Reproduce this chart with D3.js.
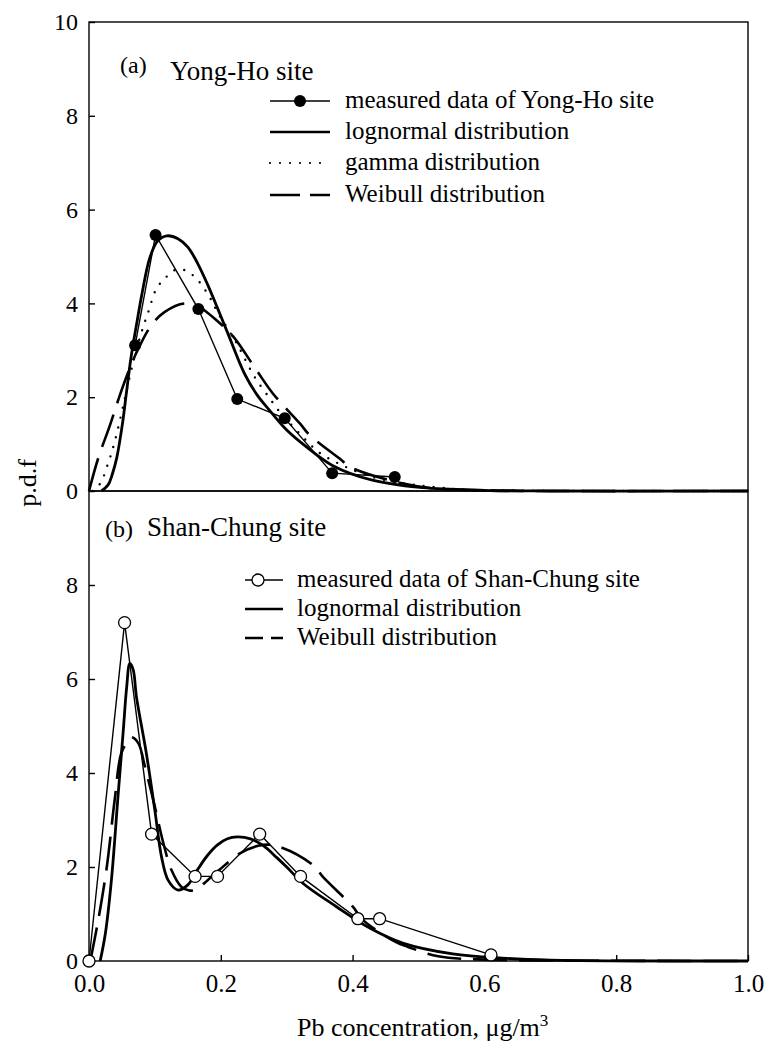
<!DOCTYPE html>
<html><head><meta charset="utf-8">
<script src="https://cdn.jsdelivr.net/npm/d3@7"></script>
<style>
html,body{margin:0;padding:0;background:#fff;}
svg text{font-family:"Liberation Serif","DejaVu Serif",serif;fill:#000;}
</style></head>
<body><svg id="c" width="768" height="1042"></svg>
<script>
// ---------- data ----------
const xTicks = [0.0, 0.2, 0.4, 0.6, 0.8, 1.0];
const yTicksA = [0, 2, 4, 6, 8, 10];
const yTicksB = [0, 2, 4, 6, 8];

// Panel (a) Yong-Ho site
const measA_x = [0.070, 0.101, 0.166, 0.225, 0.297, 0.369, 0.464];
const measA_y = [3.11, 5.46, 3.88, 1.96, 1.55, 0.38, 0.30];
const lognA_x = [0.019, 0.029, 0.035, 0.042, 0.0505, 0.057, 0.0636, 0.072, 0.081, 0.092, 0.104, 0.118, 0.135, 0.150, 0.165, 0.180, 0.195, 0.211, 0.236, 0.255, 0.274, 0.300, 0.330, 0.370, 0.430, 0.506, 0.600, 0.700, 1.000];
const lognA_y = [0.00, 0.13, 0.34, 0.70, 1.41, 2.12, 2.83, 3.54, 4.25, 4.96, 5.33, 5.44, 5.38, 5.20, 4.85, 4.40, 3.90, 3.35, 2.50, 2.05, 1.72, 1.30, 0.94, 0.54, 0.23, 0.07, 0.015, 0.00, 0.00];
const gamA_x = [0.005, 0.017, 0.029, 0.039, 0.0545, 0.068, 0.080, 0.090, 0.1025, 0.115, 0.130, 0.145, 0.163, 0.181, 0.196, 0.224, 0.251, 0.274, 0.287, 0.345, 0.363, 0.430, 0.550, 0.650, 1.000];
const gamA_y = [0.00, 0.16, 0.59, 1.05, 1.98, 2.80, 3.40, 3.82, 4.32, 4.53, 4.71, 4.71, 4.53, 4.18, 3.79, 3.15, 2.44, 1.98, 1.73, 0.87, 0.70, 0.30, 0.05, 0.01, 0.00];
const weiA_x = [0.000, 0.014, 0.032, 0.047, 0.062, 0.075, 0.095, 0.115, 0.145, 0.166, 0.196, 0.219, 0.254, 0.279, 0.320, 0.335, 0.383, 0.395, 0.456, 0.520, 0.600, 0.700, 1.000];
const weiA_y = [0.00, 0.70, 1.41, 2.05, 2.62, 3.04, 3.54, 3.82, 4.00, 3.93, 3.61, 3.29, 2.58, 2.08, 1.44, 1.19, 0.66, 0.52, 0.23, 0.06, 0.01, 0.00, 0.00];

// Panel (b) Shan-Chung site
const measB_x = [0.000, 0.054, 0.095, 0.161, 0.195, 0.259, 0.321, 0.408, 0.441, 0.610];
const measB_y = [0.00, 7.20, 2.70, 1.80, 1.80, 2.70, 1.80, 0.90, 0.90, 0.13];
const lognB_x = [0.017, 0.025, 0.034, 0.044, 0.052, 0.057, 0.062, 0.067, 0.072, 0.087, 0.100, 0.110, 0.120, 0.135, 0.150, 0.165, 0.180, 0.195, 0.210, 0.225, 0.245, 0.265, 0.285, 0.300, 0.325, 0.375, 0.426, 0.476, 0.552, 0.627, 0.700, 1.000];
const lognB_y = [0.00, 0.60, 1.72, 3.50, 4.90, 5.80, 6.33, 6.20, 5.62, 4.42, 3.20, 2.22, 1.72, 1.51, 1.62, 1.95, 2.25, 2.47, 2.60, 2.64, 2.60, 2.45, 2.20, 2.00, 1.65, 1.16, 0.70, 0.38, 0.15, 0.06, 0.02, 0.00];
const weiB_x = [0.002, 0.014, 0.027, 0.039, 0.049, 0.060, 0.0646, 0.075, 0.085, 0.100, 0.113, 0.125, 0.140, 0.152, 0.163, 0.180, 0.198, 0.229, 0.264, 0.289, 0.340, 0.355, 0.400, 0.416, 0.466, 0.484, 0.530, 0.600, 0.700, 1.000];
const weiB_y = [0.00, 0.87, 2.00, 3.43, 4.42, 4.70, 4.76, 4.63, 4.13, 3.28, 2.50, 1.94, 1.58, 1.50, 1.52, 1.72, 1.94, 2.29, 2.47, 2.43, 2.04, 1.79, 1.16, 0.87, 0.40, 0.30, 0.10, 0.03, 0.01, 0.00];

const legendA = ["measured data of Yong-Ho site", "lognormal distribution", "gamma distribution", "Weibull distribution"];
const legendB = ["measured data of Shan-Chung site", "lognormal distribution", "Weibull distribution"];

// ---------- drawing ----------
const svg = d3.select("#c");
const L = 89, R = 748;
const x = d3.scaleLinear().domain([0, 1]).range([L, R]);
const yA = d3.scaleLinear().domain([0, 10]).range([491, 22]);
const yB = d3.scaleLinear().domain([0, 10]).range([961, 491]);

const zip = (xs, ys) => xs.map((v, i) => [v, ys[i]]);

function frame(y) {
  svg.append("rect").attr("x", L).attr("y", y.range()[1]).attr("width", R - L)
    .attr("height", y.range()[0] - y.range()[1]).attr("fill", "none")
    .attr("stroke", "#000").attr("stroke-width", 1.4);
}
frame(yA); frame(yB);

function yAxis(y, ticks) {
  const g = svg.append("g").attr("transform", `translate(${L},0)`)
    .call(d3.axisLeft(y).tickValues(ticks).tickSizeInner(-6).tickSizeOuter(0).tickPadding(11).tickFormat(d3.format("d")));
  g.attr("font-family", null).attr("font-size", null);
  g.select(".domain").remove();
  g.selectAll("line").attr("stroke-width", 1.4);
  g.selectAll("text").style("font-size", "24px");
}
yAxis(yA, yTicksA); yAxis(yB, yTicksB);

const gx = svg.append("g").attr("transform", "translate(0,961)")
  .call(d3.axisBottom(x).tickValues(xTicks).tickSizeInner(-6).tickSizeOuter(0).tickPadding(13).tickFormat(d3.format(".1f")));
gx.attr("font-family", null).attr("font-size", null);
gx.select(".domain").remove();
gx.selectAll("line").attr("stroke-width", 1.4);
gx.selectAll("text").style("font-size", "25px");

function curve(y, xs, ys, w, dash, cv) {
  svg.append("path").datum(zip(xs, ys))
    .attr("d", d3.line().x(d => x(d[0])).y(d => y(d[1])).curve(cv || d3.curveCatmullRom.alpha(0.5)))
    .attr("fill", "none").attr("stroke", "#000").attr("stroke-width", w)
    .attr("stroke-dasharray", dash || null).attr("stroke-linecap", dash && dash.startsWith("0") ? "round" : "butt");
}

// Panel a
curve(yA, gamA_x, gamA_y, 2.4, "0,10");
curve(yA, weiA_x, weiA_y, 2.6, "34,12");
curve(yA, lognA_x, lognA_y, 2.8);
curve(yA, measA_x, measA_y, 1.4, null, d3.curveLinear);
svg.append("g").selectAll("circle").data(zip(measA_x, measA_y)).join("circle")
  .attr("cx", d => x(d[0])).attr("cy", d => yA(d[1])).attr("r", 6).attr("fill", "#000");

// Panel b
curve(yB, weiB_x, weiB_y, 2.6, "34,12");
curve(yB, lognB_x, lognB_y, 2.8);
curve(yB, measB_x, measB_y, 1.4, null, d3.curveLinear);
svg.append("g").selectAll("circle").data(zip(measB_x, measB_y)).join("circle")
  .attr("cx", d => x(d[0])).attr("cy", d => yB(d[1])).attr("r", 6)
  .attr("fill", "#fff").attr("stroke", "#000").attr("stroke-width", 1.3);

// Titles
svg.append("text").attr("x", 120).attr("y", 73).style("font-size", "24px").text("(a)");
svg.append("text").attr("x", 170).attr("y", 80).style("font-size", "27px").text("Yong-Ho site");
svg.append("text").attr("x", 105).attr("y", 537).style("font-size", "24px").text("(b)");
svg.append("text").attr("x", 147).attr("y", 536).style("font-size", "27px").text("Shan-Chung site");

// Legend a
const styleA = [{w: 1.4, dash: null, m: "fill"}, {w: 2.6, dash: null}, {w: 2.2, dash: "0,10"}, {w: 2.6, dash: "30,10"}];
const baseA = [108, 139, 170, 202];
legendA.forEach((t, i) => {
  const yy = baseA[i] - 7;
  const s = styleA[i];
  svg.append("line").attr("x1", 270).attr("x2", 330).attr("y1", yy).attr("y2", yy)
    .attr("stroke", "#000").attr("stroke-width", s.w).attr("stroke-dasharray", s.dash)
    .attr("stroke-linecap", s.dash && s.dash.startsWith("0") ? "round" : "butt");
  if (s.m) svg.append("circle").attr("cx", 300).attr("cy", yy).attr("r", 6).attr("fill", "#000");
  svg.append("text").attr("x", 345).attr("y", baseA[i]).style("font-size", "25px").text(t);
});

// Legend b
const styleB = [{w: 1.4, dash: null, m: "open"}, {w: 2.6, dash: null}, {w: 2.6, dash: "18,8"}];
const baseB = [587, 616, 645];
legendB.forEach((t, i) => {
  const yy = baseB[i] - 7;
  const s = styleB[i];
  svg.append("line").attr("x1", 245).attr("x2", 283).attr("y1", yy).attr("y2", yy)
    .attr("stroke", "#000").attr("stroke-width", s.w).attr("stroke-dasharray", s.dash);
  if (s.m) svg.append("circle").attr("cx", 258).attr("cy", yy).attr("r", 6)
    .attr("fill", "#fff").attr("stroke", "#000").attr("stroke-width", 1.3);
  svg.append("text").attr("x", 297).attr("y", baseB[i]).style("font-size", "25px").text(t);
});

// Axis titles
svg.append("text").attr("transform", "translate(36,483) rotate(-90)")
  .attr("text-anchor", "middle").style("font-size", "26px").text("p.d.f");
const xt = svg.append("text").attr("x", 297).attr("y", 1036).style("font-size", "26px");
xt.append("tspan").text("Pb concentration, μg/m");
xt.append("tspan").attr("dy", -10).style("font-size", "17px").text("3");
</script></body></html>
